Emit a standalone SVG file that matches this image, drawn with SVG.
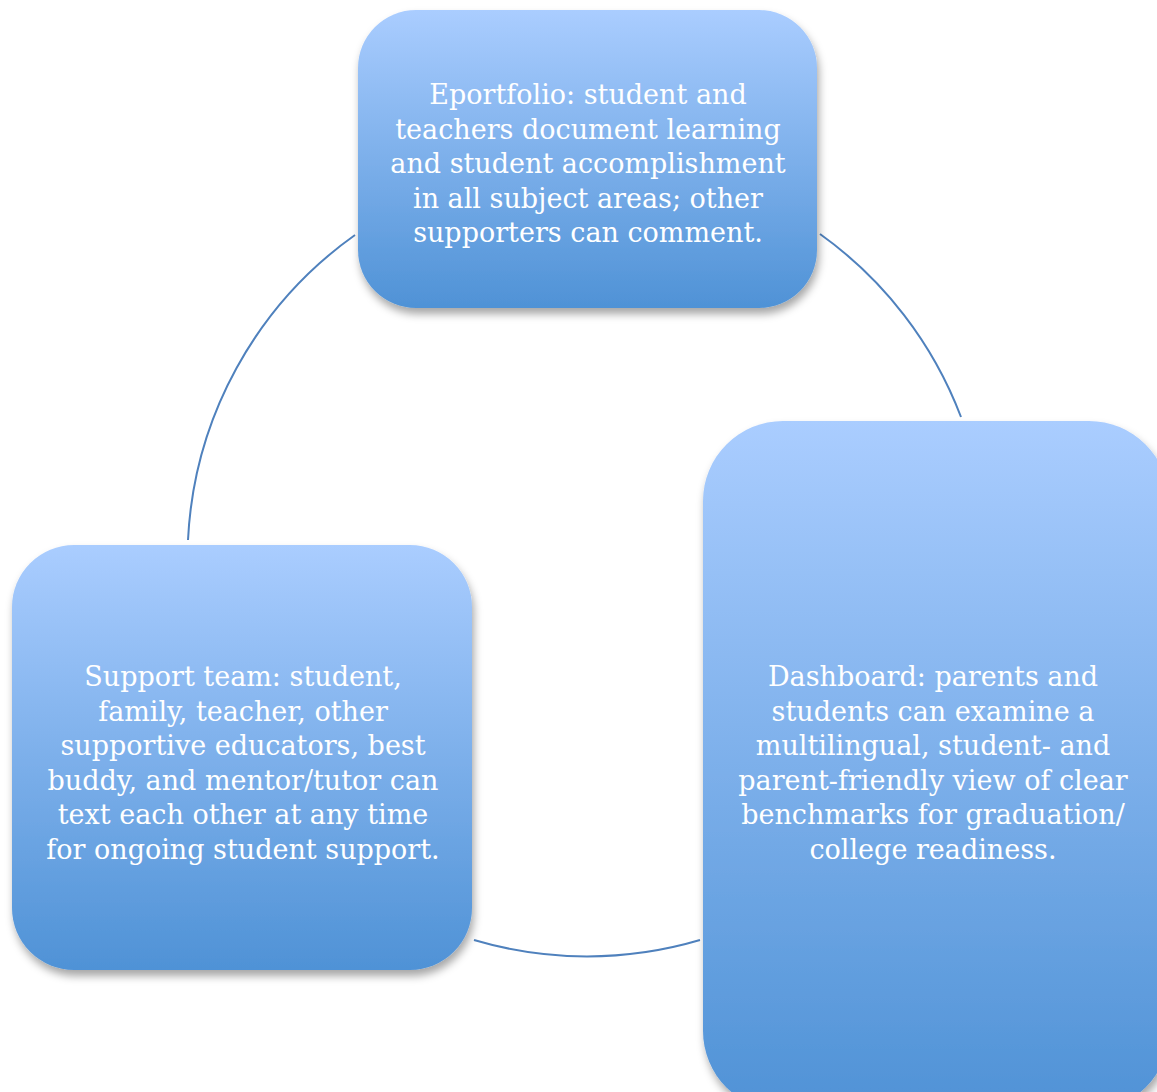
<svg xmlns="http://www.w3.org/2000/svg" width="1157" height="1092" viewBox="0 0 1157 1092">
<defs>
<linearGradient id="g" x1="0" y1="0" x2="0" y2="1">
<stop offset="0" stop-color="#aacdff"/>
<stop offset="1" stop-color="#4f92d6"/>
</linearGradient>
<filter id="sh" x="-10%" y="-10%" width="125%" height="125%">
<feDropShadow dx="2" dy="6" stdDeviation="4" flood-color="#000" flood-opacity="0.35"/>
</filter>
<style>
.box{fill:url(#g);filter:url(#sh);}
.t{font-family:"DejaVu Serif","Liberation Serif",serif;font-size:27px;fill:#fff;text-anchor:middle;}
.c{fill:none;stroke:#4f81bd;stroke-width:2;}
</style>
</defs>
<rect width="1157" height="1092" fill="#fff"/>
<g id="connectors">
<path class="c" d="M820,234 A398,398 0 0 1 961,417"/>
<path class="c" d="M700,940 A398,398 0 0 1 474,940"/>
<path class="c" d="M188,540 A398,398 0 0 1 355,235"/>
</g>
<g id="eportfolio">
<rect class="box" x="358" y="10" width="459" height="298" rx="58"/>
<text class="t"><tspan x="588" y="104">Eportfolio: student and</tspan><tspan x="588" y="138.6">teachers document learning</tspan><tspan x="588" y="173.2">and student accomplishment</tspan><tspan x="588" y="207.8">in all subject areas; other</tspan><tspan x="588" y="242.4">supporters can comment.</tspan></text>
</g>
<g id="support">
<rect class="box" x="12" y="545" width="460" height="425" rx="62"/>
<text class="t"><tspan x="243" y="686">Support team: student,</tspan><tspan x="243" y="720.6">family, teacher, other</tspan><tspan x="243" y="755.2">supportive educators, best</tspan><tspan x="243" y="789.8">buddy, and mentor/tutor can</tspan><tspan x="243" y="824.4">text each other at any time</tspan><tspan x="243" y="859">for ongoing student support.</tspan></text>
</g>
<g id="dashboard">
<rect class="box" x="703" y="421" width="466" height="690" rx="80"/>
<text class="t"><tspan x="933" y="686">Dashboard: parents and</tspan><tspan x="933" y="720.6">students can examine a</tspan><tspan x="933" y="755.2">multilingual, student- and</tspan><tspan x="933" y="789.8">parent-friendly view of clear</tspan><tspan x="933" y="824.4">benchmarks for graduation/</tspan><tspan x="933" y="859">college readiness.</tspan></text>
</g>
</svg>
